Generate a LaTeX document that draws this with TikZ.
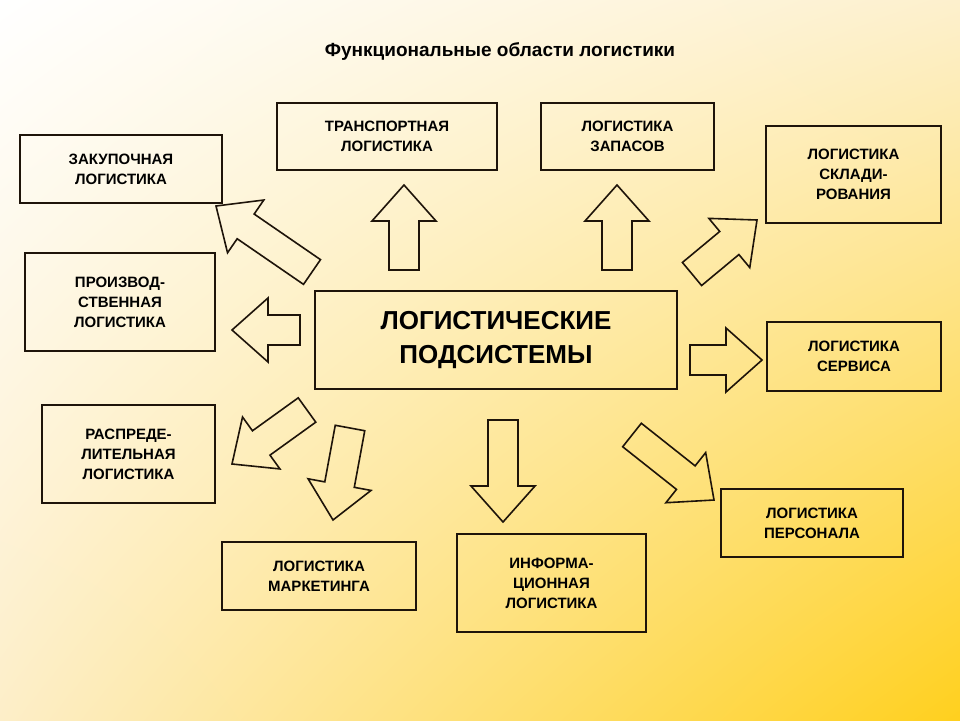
\documentclass[tikz,border=0pt]{standalone}
\usepackage{fontspec}
\setmainfont{Liberation Sans}
\usetikzlibrary{calc,shadings}
\definecolor{bgTR}{RGB}{253,240,205}
\definecolor{bgBL}{RGB}{253,238,200}
\definecolor{bgBR}{RGB}{255,208,30}
\definecolor{ln}{RGB}{30,20,10}
\begin{document}
\begin{tikzpicture}[x=1pt,y=-1pt,
  box/.style={draw=ln,line width=2pt,align=center,font=\bfseries\fontsize{15}{20}\selectfont,inner sep=0pt},
  barrow/.style={draw=ln,line width=1.6pt,line join=miter}]
\shade[upper left=white,upper right=bgTR,lower left=bgBL,lower right=bgBR] (0,0) rectangle (960,720);
\useasboundingbox (0,0) rectangle (960,720);
\node (title) at (500,52) {\bfseries\fontsize{19}{22}\selectfont Функциональные области логистики};
\newcommand\bx[6]{\node[box,minimum width=#3-#1,minimum height=#4-#2] (#5) at ({(#1+#3)/2},{(#2+#4)/2}) {#6};}
\bx{20}{135}{222}{203}{zak}{ЗАКУПОЧНАЯ\\ЛОГИСТИКА}
\bx{277}{103}{497}{170}{tr}{ТРАНСПОРТНАЯ\\ЛОГИСТИКА}
\bx{541}{103}{714}{170}{zap}{ЛОГИСТИКА\\ЗАПАСОВ}
\bx{766}{126}{941}{223}{skl}{ЛОГИСТИКА\\СКЛАДИ-\\РОВАНИЯ}
\bx{25}{253}{215}{351}{pr}{ПРОИЗВОД-\\СТВЕННАЯ\\ЛОГИСТИКА}
\node[box,minimum width=362,minimum height=98,font=\bfseries\fontsize{26}{34}\selectfont] (c) at (496,340) {ЛОГИСТИЧЕСКИЕ\\ПОДСИСТЕМЫ};
\bx{767}{322}{941}{391}{ser}{ЛОГИСТИКА\\СЕРВИСА}
\bx{42}{405}{215}{503}{ras}{РАСПРЕДЕ-\\ЛИТЕЛЬНАЯ\\ЛОГИСТИКА}
\bx{721}{489}{903}{557}{per}{ЛОГИСТИКА\\ПЕРСОНАЛА}
\bx{222}{542}{416}{610}{mar}{ЛОГИСТИКА\\МАРКЕТИНГА}
\bx{457}{534}{646}{632}{inf}{ИНФОРМА-\\ЦИОННАЯ\\ЛОГИСТИКА}
\newcommand\barr[3]{%
 \coordinate (#1a) at (#2); \coordinate (#1b) at (#3);
 \coordinate (#1n) at ($(#1b)!36pt!(#1a)$);
 \draw[barrow] ($(#1a)!15pt!90:(#1b)$) -- ($(#1n)!15pt!-90:(#1a)$) -- ($(#1n)!32pt!-90:(#1a)$) -- (#1b)
   -- ($(#1n)!32pt!90:(#1a)$) -- ($(#1n)!15pt!90:(#1a)$) -- ($(#1a)!15pt!-90:(#1b)$) -- cycle;}
\barr{a1}{312,272}{216,206}
\barr{a2}{404,270}{404,185}
\barr{a3}{617,270}{617,185}
\barr{a4}{692,274}{757,220}
\barr{a5}{300,330}{232,330}
\barr{a6}{690,360}{762,360}
\barr{a7}{307,410}{232,464}
\barr{a8}{350,428}{333,520}
\barr{a9}{503,420}{503,522}
\barr{a10}{632,435}{714,500}
\end{tikzpicture}
\end{document}
